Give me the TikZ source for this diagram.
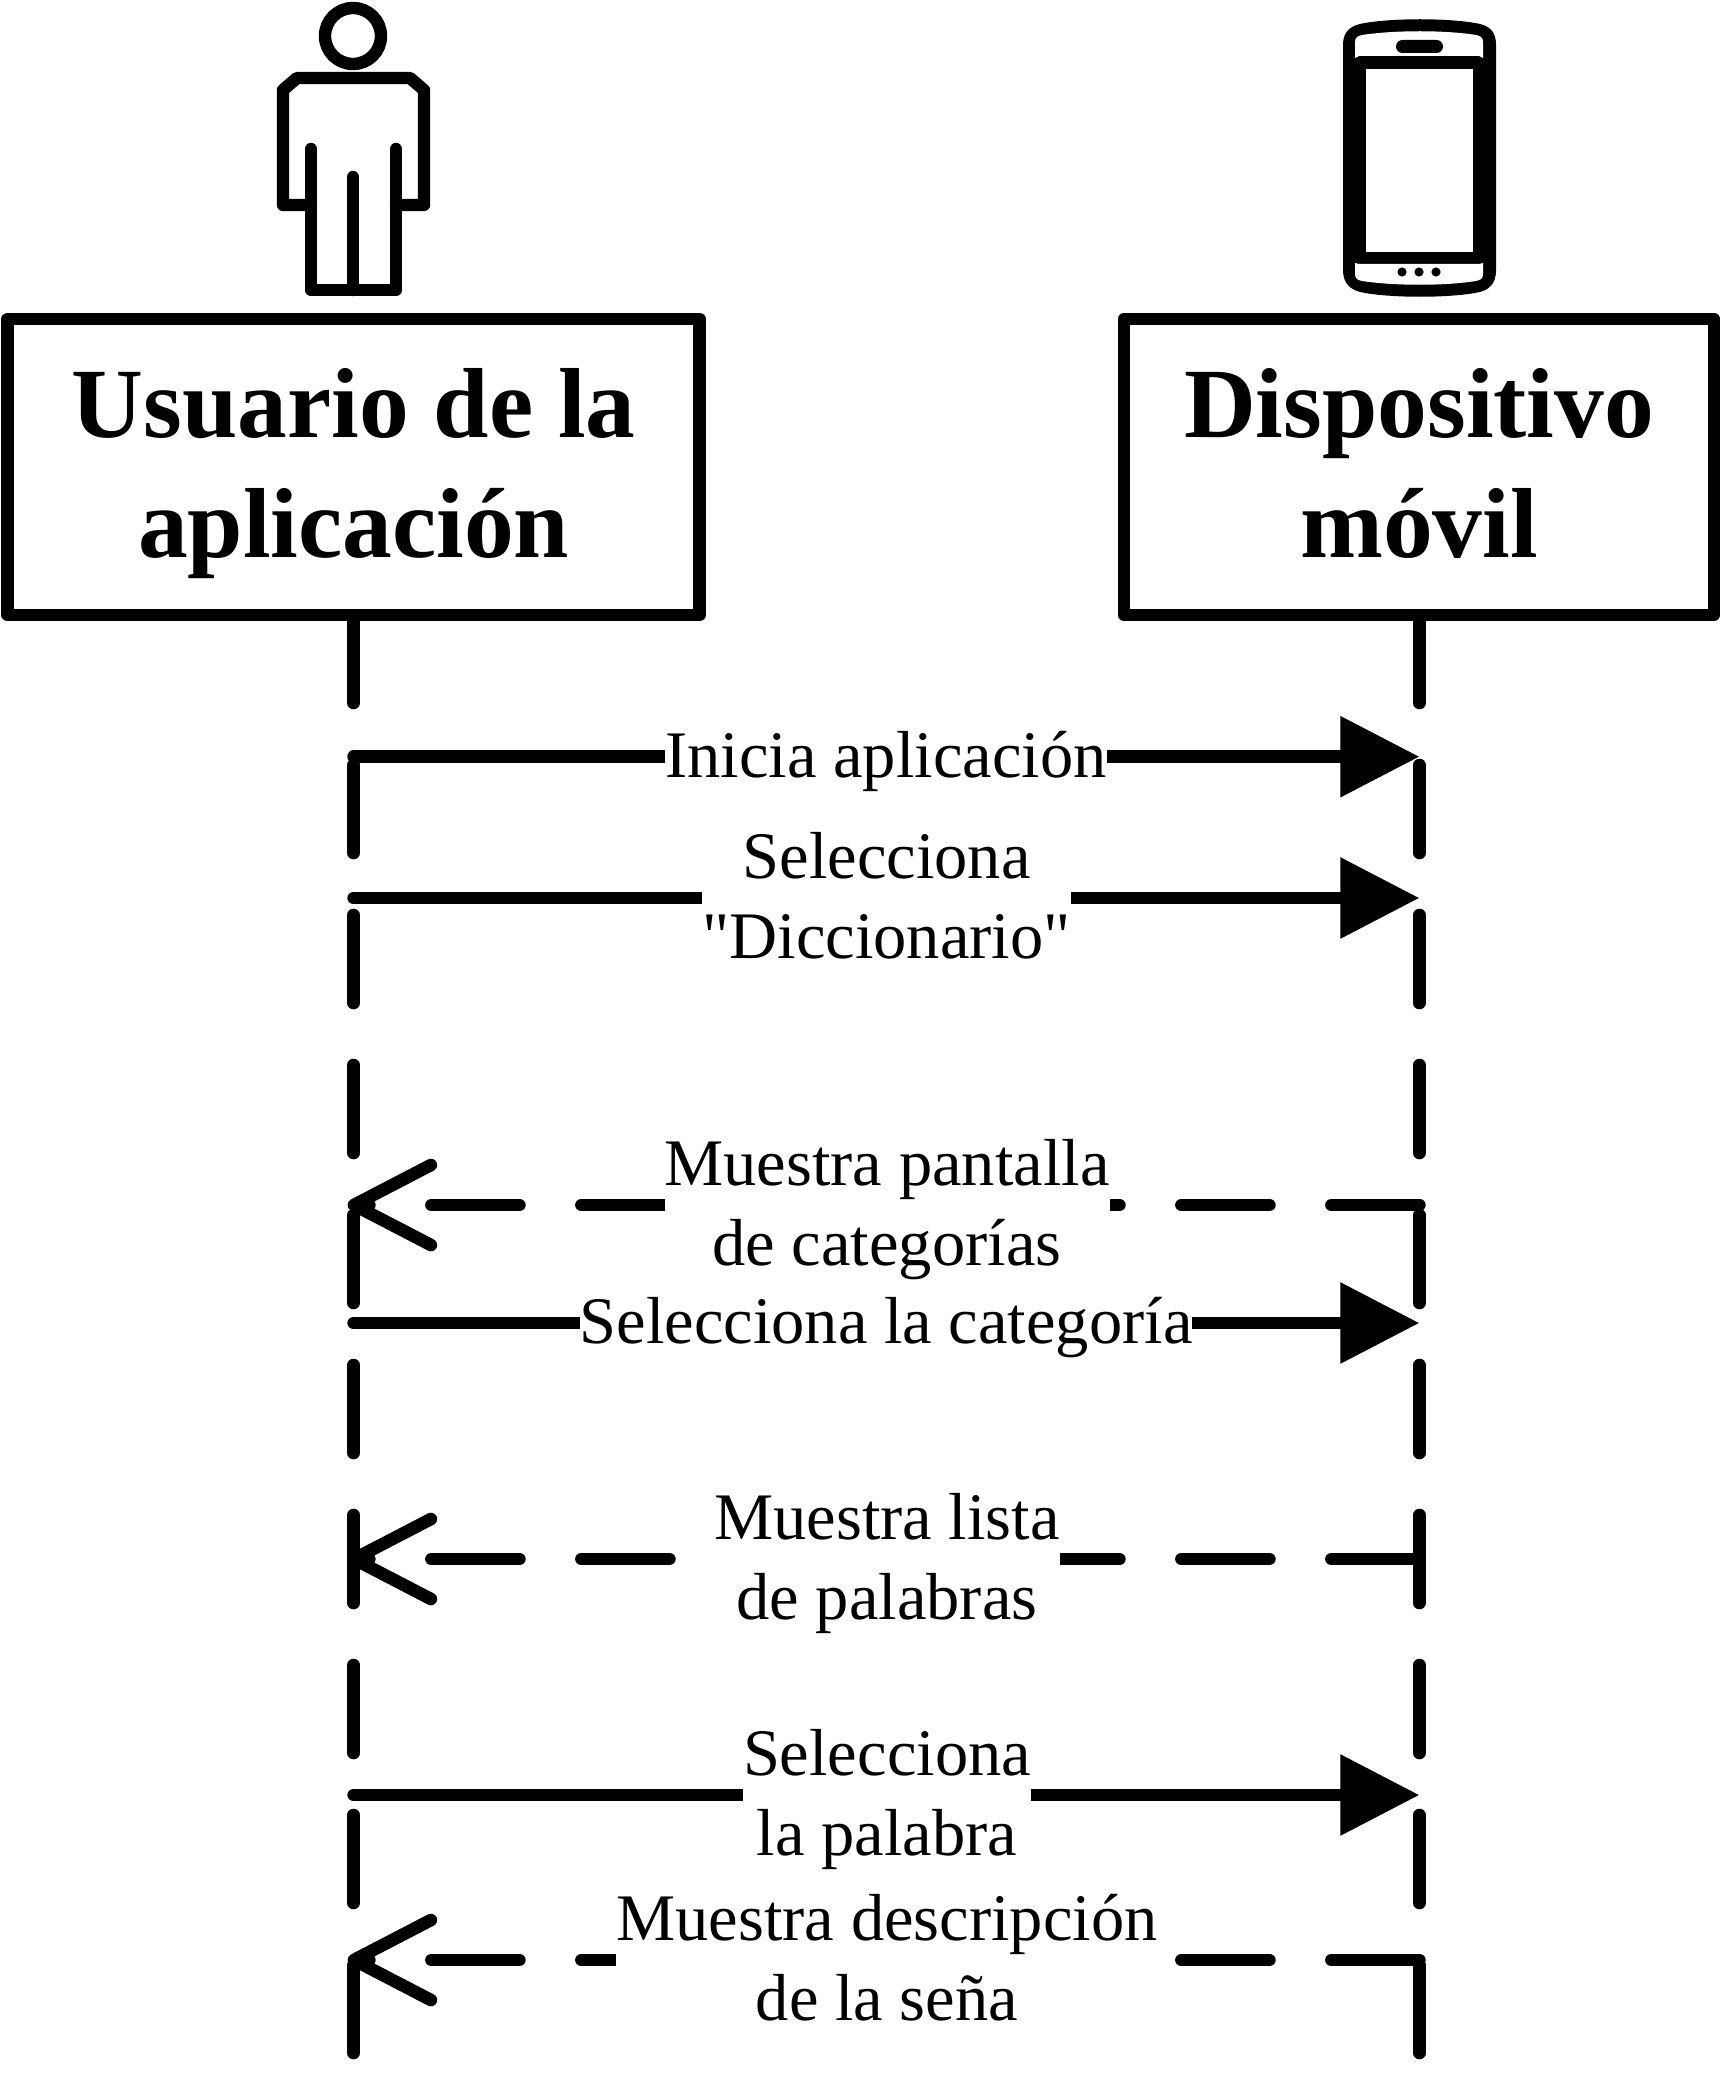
\documentclass[tikz,border=0pt]{standalone}
\usepackage{fontspec}
\setmainfont{Liberation Serif}
\newfontfamily\msgfont{Liberation Serif}
\newcommand{\boxstrut}{\rule[-30pt]{0pt}{120pt}}
\usetikzlibrary{arrows.meta}
\tikzset{
  every picture/.style={x=1pt,y=-1pt},
  actorbox/.style={draw=black,line width=12.4pt,line join=round,fill=white,minimum height=296pt,align=center,inner sep=0pt,font=\fontsize{99.5}{120}\selectfont\bfseries},
  lifeline/.style={draw=black,line width=12.6pt,line cap=round,dash pattern=on 88pt off 62pt},
  msgfwd/.style={draw=black,line width=12.6pt,line cap=round,-{Triangle[length=79pt,width=78pt]}},
  msgback/.style={draw=black,line width=12.6pt,line cap=round,dash pattern=on 88pt off 62pt,shorten >=-6pt,-{Straight Barb[round,length=77pt,width=80pt,line width=12.6pt]}},
  msglabel/.style={fill=white,inner sep=0pt,align=center,font=\fontsize{66.5}{80}\selectfont\msgfont},
  iconline/.style={draw=black,line width=12.4pt,line cap=round,line join=round}
}
\begin{document}
\begin{tikzpicture}
\useasboundingbox (0,0) rectangle (1732,2076);
% person icon
\draw[iconline] (353,36) circle (28);
\draw[iconline] (311,205) -- (283,205) -- (283,90) -- (297,78) -- (410,78) -- (424,90) -- (424,205) -- (396,205);
\draw[iconline] (311,149) -- (311,290) -- (396,290) -- (396,149);
\draw[iconline] (353,177) -- (353,290);
% phone icon
\fill[black] (1343,45) .. controls (1343,30) and (1352,25) .. (1365,23) .. controls (1395,18) and (1445,18) .. (1475,23) .. controls (1488,25) and (1496,30) .. (1496,45) -- (1496,270) .. controls (1496,285) and (1488,291) .. (1475,293) .. controls (1445,298) and (1395,298) .. (1365,293) .. controls (1352,291) and (1343,285) .. (1343,270) -- cycle;
\fill[white] (1355,58) -- (1355,42) .. controls (1355,37) and (1358,36) .. (1362,35) .. controls (1395,30) and (1445,30) .. (1476,35) .. controls (1480,36) and (1483,37) .. (1483,42) -- (1483,58) -- (1479,56) -- (1359,56) -- cycle;
\fill[white] (1366,69) rectangle (1473,252);
\fill[white] (1355,263) -- (1355,274) .. controls (1355,279) and (1358,280) .. (1362,281) .. controls (1395,286) and (1445,286) .. (1476,281) .. controls (1480,280) and (1483,279) .. (1483,274) -- (1483,263) -- (1479,264) -- (1359,264) -- cycle;
\fill[black,rounded corners=6.4pt] (1396,40) rectangle (1443,53);
\foreach \x in {1402,1419,1436} \fill[black] (\x,272) circle (4.6);
% lifeline anchors
\coordinate (uTop) at (353.6,615);
\coordinate (uEnd) at (353.6,2064);
\coordinate (dTop) at (1419.4,615);
\coordinate (dEnd) at (1419.4,2064);
\foreach \n/\y in {a/756.7,b/898,c/1205,d/1323,e/1559,f/1795,g/1960} {
  \coordinate (u\n) at (353.6,\y);
  \coordinate (d\n) at (1419.4,\y);
}
\draw[lifeline] (uTop) -- (uEnd);
\draw[lifeline] (dTop) -- (dEnd);
% actors
\node[actorbox,minimum width=692pt] (user) at (353.6,467) {\boxstrut Usuario de la\\\boxstrut aplicación};
\node[actorbox,minimum width=590pt] (device) at (1419,467) {\boxstrut Dispositivo\\\boxstrut móvil};
% messages
\draw[msgfwd] (ua) -- (da);
\draw[msgfwd] (ub) -- (db);
\draw[msgback] (dc) -- (uc);
\draw[msgfwd] (ud) -- (dd);
\draw[msgback] (de) -- (ue);
\draw[msgfwd] (uf) -- (df);
\draw[msgback] (dg) -- (ug);
% labels
\node[msglabel] (la) at (886,761) {Inicia aplicación};
\node[msglabel] (lb) at (886.5,896) {Selecciona\\"Diccionario"};
\node[msglabel] (lc) at (887,1209.5) {Muestra pantalla\\de categorías};
\node[msglabel] (ld) at (886,1327.5) {Selecciona la categoría};
\node[msglabel] (le) at (887,1563) {Muestra lista\\de palabras};
\node[msglabel] (lf) at (887,1799) {Selecciona\\la palabra};
\node[msglabel] (lg) at (887,1958) {Muestra descripción\\de la seña};
\end{tikzpicture}
\end{document}
